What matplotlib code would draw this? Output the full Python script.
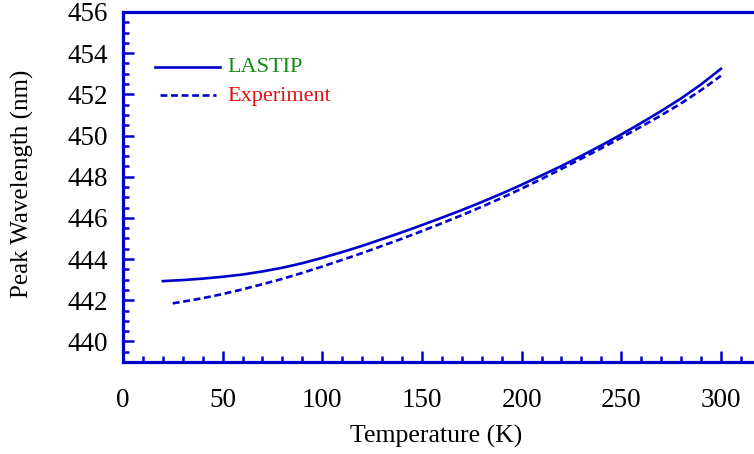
import matplotlib
matplotlib.use('Agg')
import matplotlib.pyplot as plt
from matplotlib.ticker import MultipleLocator

# values
temp_lastip = [20, 30, 40, 50, 60, 70, 80, 90, 100, 110, 120, 130, 140, 150, 160,
               170, 180, 190, 200, 210, 220, 230, 240, 250, 260, 270, 280, 290, 300]
peak_lastip = [442.93, 442.98, 443.05, 443.14, 443.25, 443.40, 443.58, 443.80,
               444.06, 444.34, 444.64, 444.97, 445.30, 445.65, 446.01, 446.38,
               446.77, 447.18, 447.61, 448.06, 448.52, 449.01, 449.52, 450.05,
               450.61, 451.19, 451.80, 452.48, 453.24]

temp_exp = [25, 30, 40, 50, 60, 70, 80, 90, 100, 110, 120, 130, 140, 150, 160,
            170, 180, 190, 200, 210, 220, 230, 240, 250, 260, 270, 280, 290, 300]
peak_exp = [441.85, 441.93, 442.10, 442.30, 442.53, 442.78, 443.04, 443.33,
            443.64, 443.96, 444.29, 444.64, 444.99, 445.36, 445.74, 446.13,
            446.54, 446.97, 447.42, 447.89, 448.38, 448.88, 449.38, 449.90,
            450.43, 450.98, 451.56, 452.20, 452.90]

blue = '#0000cc'
dashes = (0, (2.6, 1.4))
plt.rcParams['font.family'] = ['Liberation Serif', 'DejaVu Serif']

fig = plt.figure(figsize=(7.54, 4.54), dpi=100)
ax = fig.add_axes([0.1631, 0.2026, 1.0 - 0.1631, 0.9736 - 0.2026])

ax.plot(temp_lastip, peak_lastip, color=blue, lw=1.9, ls='-')
ax.plot(temp_exp, peak_exp, color=blue, lw=1.9, ls=dashes)

ax.set_xlim(0, 316.6)
ax.set_ylim(439, 456)
ax.xaxis.set_major_locator(MultipleLocator(50))
ax.xaxis.set_minor_locator(MultipleLocator(10))
ax.yaxis.set_major_locator(MultipleLocator(2))
ax.yaxis.set_minor_locator(MultipleLocator(0.5))

for side in ('left', 'bottom', 'top'):
    ax.spines[side].set_color(blue)
    ax.spines[side].set_linewidth(2.3)
ax.spines['right'].set_visible(False)

ax.tick_params(which='both', direction='in', color=blue, width=1.8,
               top=False, right=False, labelsize=19.5)
ax.tick_params(which='major', length=8)
ax.tick_params(which='minor', length=4.5)
ax.tick_params(axis='x', pad=19)
ax.tick_params(axis='y', pad=11)

fig.text(436 / 754, 1 - 436 / 454, 'Temperature (K)', fontsize=18.5,
         ha='center', va='center')
fig.text(22 / 754, 1 - 184 / 454, 'Peak Wavelength (nm)', fontsize=18,
         ha='center', va='center', rotation=90)

# hand-drawn legend like the original
ax.plot([15.9, 48.6], [453.33, 453.33], color=blue, lw=1.9)
ax.text(52.5, 453.3, 'LASTIP', color='#138a13', fontsize=16, va='center')
ax.plot([18.5, 46.5], [451.95, 451.95], color=blue, lw=1.9, ls=dashes)
ax.text(52.5, 451.9, 'Experiment', color='#e01010', fontsize=16, va='center')

fig.savefig('out.png', dpi=100)
